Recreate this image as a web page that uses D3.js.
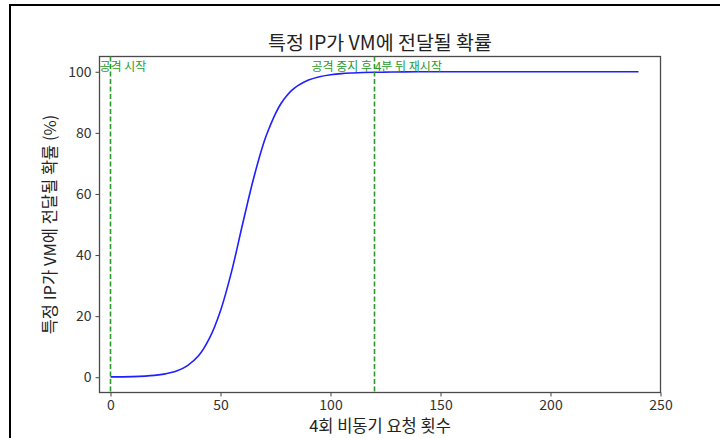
<!DOCTYPE html>
<html>
<head>
<meta charset="utf-8">
<script src="https://cdn.jsdelivr.net/npm/d3@7"></script>
<style>
  html, body { margin: 0; padding: 0; background: #fff; }
  svg { display: block; font-family: "Noto Sans CJK KR", "Noto Sans", sans-serif; }
</style>
</head>
<body>
<svg id="chart" width="720" height="438"></svg>
<script>
// Request count (x) and probability in percent (y) for the delivered-to-VM curve
const requestCounts = [0, 10, 20, 25, 30, 35, 40, 45, 50, 55, 60, 65, 70, 72.5, 75, 77.5, 80, 82.5, 85, 90, 95, 100, 105, 110, 120, 130, 140, 160, 200, 240];
const probability   = [0.1, 0.2, 0.6, 1.1, 2.0, 3.8, 7, 12.8, 21.8, 34.5, 50, 65, 77.5, 82.2, 86.3, 89.6, 92.1, 94, 95.4, 97.3, 98.4, 99.0, 99.4, 99.6, 99.85, 99.95, 100, 100, 100, 100];

// Vertical event markers
const eventX      = [0, 120];
const eventLabels = ["공격 시작", "공격 중지 후 4분 뒤 재시작"];
const eventLabelX = [-5, 121];
const eventAnchor = ["start", "middle"];

const xTicks = [0, 50, 100, 150, 200, 250];
const yTicks = [0, 20, 40, 60, 80, 100];

const titleText  = "특정 IP가 VM에 전달될 확률";
const xLabelText = "4회 비동기 요청 횟수";
const yLabelText = "특정 IP가 VM에 전달될 확률 (%)";

const svg = d3.select("#chart");

// Outer figure frame
svg.append("rect")
  .attr("x", 10).attr("y", 5)
  .attr("width", 760).attr("height", 480)
  .attr("fill", "none").attr("stroke", "#000").attr("stroke-width", 2);

const plot = { left: 99.5, right: 660.5, top: 56.5, bottom: 392.5 };

const x = d3.scaleLinear().domain([-5, 250]).range([plot.left, plot.right]);
const y = d3.scaleLinear().domain([-5, 105]).range([plot.bottom, plot.top]);

// Axes
const xAxis = svg.append("g")
  .attr("transform", `translate(0,${plot.bottom})`)
  .call(d3.axisBottom(x).tickValues(xTicks).tickSize(4).tickPadding(4).tickSizeOuter(0));
const yAxis = svg.append("g")
  .attr("transform", `translate(${plot.left},0)`)
  .call(d3.axisLeft(y).tickValues(yTicks).tickSize(4).tickPadding(4).tickSizeOuter(0));

[xAxis, yAxis].forEach(g => {
  g.select(".domain").remove();
  g.selectAll(".tick line").attr("stroke", "#444").attr("stroke-width", 1);
  g.selectAll(".tick text")
    .attr("fill", "#333")
    .style("font-size", "14px")
    .style("font-family", "'Noto Sans CJK KR', sans-serif");
});

// Plot frame (spines)
svg.append("rect")
  .attr("x", plot.left).attr("y", plot.top)
  .attr("width", plot.right - plot.left).attr("height", plot.bottom - plot.top)
  .attr("fill", "none").attr("stroke", "#4a4a4a").attr("stroke-width", 1.3);

// Probability curve
const line = d3.line()
  .x((d, i) => x(requestCounts[i]))
  .y(d => y(d))
  .curve(d3.curveCatmullRom.alpha(0.5));

svg.append("path")
  .datum(probability)
  .attr("d", line)
  .attr("fill", "none")
  .attr("stroke", "#1f1fff")
  .attr("stroke-width", 1.6);

// Event markers
svg.selectAll(".event-line")
  .data(eventX)
  .join("line")
  .attr("class", "event-line")
  .attr("x1", d => x(d)).attr("x2", d => x(d))
  .attr("y1", plot.top).attr("y2", plot.bottom)
  .attr("stroke", "#2a9a2a")
  .attr("stroke-width", 1.6)
  .attr("stroke-dasharray", "5,2.5");

svg.selectAll(".event-label")
  .data(eventLabels)
  .join("text")
  .attr("class", "event-label")
  .attr("x", (d, i) => x(eventLabelX[i]))
  .attr("y", y(100) - 0.5)
  .attr("text-anchor", (d, i) => eventAnchor[i])
  .attr("fill", "#2a9a2a")
  .style("font-size", "12px")
  .text(d => d);

// Title and axis labels
svg.append("text")
  .attr("x", (plot.left + plot.right) / 2)
  .attr("y", 50)
  .attr("text-anchor", "middle")
  .attr("fill", "#222")
  .style("font-size", "19.5px")
  .text(titleText);

svg.append("text")
  .attr("x", (plot.left + plot.right) / 2)
  .attr("y", 432)
  .attr("text-anchor", "middle")
  .attr("fill", "#222")
  .style("font-size", "16.5px")
  .text(xLabelText);

svg.append("text")
  .attr("transform", `translate(56,${(plot.top + plot.bottom) / 2}) rotate(-90)`)
  .attr("text-anchor", "middle")
  .attr("fill", "#222")
  .style("font-size", "16.5px")
  .text(yLabelText);
</script>
</body>
</html>
